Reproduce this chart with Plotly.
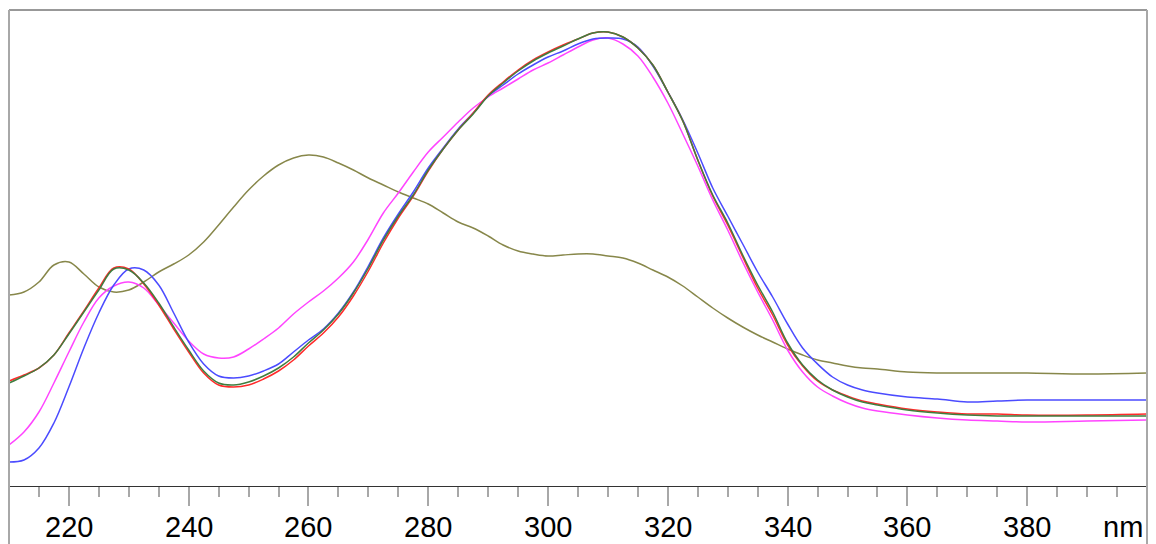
import plotly.graph_objects as go

wavelength_nm = [210, 212.5, 215, 217.5, 220, 222.5, 225, 227.5, 230, 232.5, 235, 237.5,
                 240, 242.5, 245, 247.5, 250, 252.5, 255, 257.5, 260, 262.5, 265, 267.5,
                 270, 272.5, 275, 277.5, 280, 282.5, 285, 287.5, 290, 292.5, 295, 297.5,
                 300, 302.5, 305, 307.5, 310, 312.5, 315, 317.5, 320, 322.5, 325, 327.5,
                 330, 332.5, 335, 337.5, 340, 342.5, 345, 347.5, 350, 352.5, 355, 360,
                 365, 370, 375, 380, 390, 400]

olive_signal = [191, 194, 204, 221, 224, 212, 199, 194, 196, 204, 214, 222,
                231, 244, 261, 279, 296, 310, 321, 328, 331, 329, 323, 316,
                308, 301, 294, 288, 282, 273, 264, 258, 250, 241, 235, 232,
                230, 231, 232, 232, 230, 228, 223, 216, 209, 200, 189, 178,
                168, 159, 151, 144, 137, 131, 126, 123, 120, 118, 117, 114,
                113, 113, 113, 113, 112, 113]

magenta_signal = [41, 54, 74, 103, 134, 164, 188, 200, 204, 198, 181, 163,
                  145, 132, 128, 129, 137, 147, 158, 172, 184, 195, 208, 224,
                  247, 273, 293, 314, 334, 349, 364, 378, 389, 398, 407, 416,
                  423, 431, 439, 446, 448, 442, 430, 409, 383, 352, 320, 286,
                  256, 224, 194, 166, 136, 114, 99, 90, 83, 78, 75, 71,
                  68, 66, 65, 64, 65, 66]

blue_signal = [24, 26, 38, 63, 99, 138, 173, 201, 217, 216, 201, 173,
               144, 122, 110, 108, 110, 115, 122, 134, 146, 157, 173, 194,
               220, 248, 272, 294, 318, 338, 357, 373, 390, 401, 412, 421,
               429, 435, 442, 447, 448, 447, 439, 420, 394, 366, 333, 298,
               270, 242, 214, 189, 162, 138, 122, 109, 101, 96, 93, 89,
               87, 84, 85, 86, 86, 86]

red_signal = [105, 111, 118, 131, 153, 175, 198, 218, 217, 202, 181, 157,
              134, 113, 101, 99, 101, 107, 115, 126, 140, 153, 169, 190,
              215, 243, 268, 290, 315, 337, 356, 373, 391, 404, 416, 426,
              434, 441, 447, 453, 454, 449, 438, 421, 394, 365, 326, 290,
              261, 229, 198, 171, 141, 120, 105, 96, 90, 85, 82, 77,
              74, 72, 72, 71, 71, 72]

green_signal = [103, 110, 118, 131, 152, 174, 196, 217, 216, 203, 183, 159,
                136, 115, 103, 101, 104, 110, 118, 129, 143, 156, 172, 193,
                218, 246, 270, 291, 316, 337, 356, 372, 390, 403, 415, 425,
                433, 440, 447, 453, 454, 449, 438, 421, 394, 365, 326, 291,
                263, 231, 201, 174, 143, 121, 106, 96, 89, 84, 81, 76,
                73, 71, 70, 70, 70, 70]

tick_values = [220, 240, 260, 280, 300, 320, 340, 360, 380]
tick_labels = ["220", "240", "260", "280", "300", "320", "340", "360", "380"]
unit_label = "nm"

series = [
    ("olive", olive_signal, "#87874a"),
    ("magenta", magenta_signal, "#ff44ff"),
    ("blue", blue_signal, "#4b4bff"),
    ("red", red_signal, "#ff2a2a"),
    ("green", green_signal, "#3f7d3f"),
]

fig = go.Figure()
for name, vals, col in series:
    fig.add_trace(go.Scatter(
        x=wavelength_nm, y=vals, mode="lines", name=name,
        line=dict(color=col, width=1.5, shape="spline", smoothing=1.0),
        hoverinfo="skip",
    ))

H_PLOT = 476
B_MARGIN = 58
LABEL_Y = -41 / H_PLOT
LABEL_FONT = dict(family="Liberation Sans, Arial", size=29, color="black")

annotations = [
    dict(text=lab, xref="x", yref="paper", x=v, y=LABEL_Y,
         xanchor="center", yanchor="middle", showarrow=False, font=LABEL_FONT)
    for v, lab in zip(tick_values, tick_labels)
]
annotations.append(
    dict(text=unit_label, xref="paper", yref="paper", x=1, y=LABEL_Y,
         xanchor="right", yanchor="middle", xshift=-2, showarrow=False,
         font=LABEL_FONT)
)

fig.update_layout(
    width=1156, height=544,
    margin=dict(l=9, r=9, t=10, b=B_MARGIN, autoexpand=False),
    paper_bgcolor="white", plot_bgcolor="white",
    showlegend=False,
    xaxis=dict(
        range=[210, 400], showgrid=False, zeroline=False, automargin=False,
        showline=True, linecolor="#333333", linewidth=1,
        tickmode="array", tickvals=tick_values, showticklabels=False,
        ticks="outside", ticklen=19, tickwidth=1.5, tickcolor="#a8a8a8",
        minor=dict(tickmode="linear", tick0=210, dtick=5, ticks="outside",
                   ticklen=10, tickwidth=1.5, tickcolor="#a8a8a8", showgrid=False),
    ),
    yaxis=dict(range=[0, 476], showgrid=False, zeroline=False, showline=False,
               showticklabels=False, ticks="", automargin=False),
    shapes=[
        dict(type="line", xref="paper", yref="paper", x0=0, x1=1, y0=1, y1=1,
             line=dict(color="#333333", width=1)),
        dict(type="line", xref="paper", yref="paper", x0=0, x1=0,
             y0=-B_MARGIN / H_PLOT, y1=1, line=dict(color="#a8a8a8", width=2)),
        dict(type="line", xref="paper", yref="paper", x0=1, x1=1,
             y0=-B_MARGIN / H_PLOT, y1=1, line=dict(color="#a8a8a8", width=2)),
    ],
    annotations=annotations,
)

fig.write_html(
    "out.html",
    config={"displayModeBar": False},
    post_script="document.body.style.margin='0';document.body.style.overflow='hidden';",
)
